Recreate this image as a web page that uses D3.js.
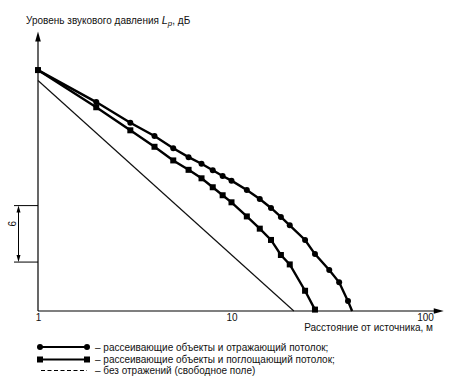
<!DOCTYPE html>
<html><head><meta charset="utf-8">
<script src="https://cdn.jsdelivr.net/npm/d3@7"></script>
<style>body{margin:0;background:#fff}svg{display:block}text{font-family:"Liberation Sans",Arial,sans-serif;fill:#111}</style>
</head><body>
<svg id="c" width="454" height="379"></svg>
<script>
// distances, m
const distReflect = [1,2,3,4,5,6,7,8,9,10,12,14,16,18,20,24,27,32,36,40,42];
const lpReflect   = [25.6,22.2,20.0,18.6,17.3,16.35,15.65,14.95,14.35,13.85,12.85,11.9,10.95,10.0,9.1,7.55,6.05,4.35,3.05,1.05,0];
const distAbsorb  = [1,2,3,4,5,6,7,8,9,10,12,14,16,18,20,24,27];
const lpAbsorb    = [25.6,21.65,19.2,17.45,16.0,15.0,14.1,13.15,12.3,11.55,10.05,8.75,7.55,5.95,4.95,2.15,0.15];
const distFree    = [1,21];
const lpFree      = [24.5,0];
const xTicks = [1,10,100];
const scaleBar = [5.2,11.2];
const yTitle = "Уровень звукового давления ";
const xTitle = "Расстояние от источника, м";
const legendLabels = ["– рассеивающие объекты и отражающий потолок;",
                      "– рассеивающие объекты и поглощающий потолок;",
                      "– без отражений (свободное поле)"];

const svg = d3.select("#c");
const x = d3.scaleLog().domain([1,125]).range([38, 38+193.5*Math.log10(125)]);
const y = d3.scaleLinear().domain([0,29.7]).range([311,31.5]);

// axes lines with arrows
const x0 = x(1), y0 = y(0);
svg.append("line").attr("x1",x0).attr("y1",y0).attr("x2",x0).attr("y2",y(29.7)+6).attr("stroke","#000").attr("stroke-width",1.2);
svg.append("path").attr("d",`M${x0},${y(29.7)} L${x0-2.8},${y(29.7)+10} L${x0+2.8},${y(29.7)+10} Z`).attr("fill","#000");
svg.append("line").attr("x1",x0).attr("y1",y0).attr("x2",x(125)-6).attr("y2",y0).attr("stroke","#000").attr("stroke-width",1.2);
svg.append("path").attr("d",`M${x(125)},${y0} L${x(125)-10},${y0-2.8} L${x(125)-10},${y0+2.8} Z`).attr("fill","#000");

// x tick labels
const ax = svg.append("g").attr("transform",`translate(0,${y0})`)
  .call(d3.axisBottom(x).tickValues(xTicks).tickSize(0).tickPadding(3).tickFormat(d3.format("d")));
ax.select(".domain").remove();
ax.selectAll("text").attr("font-size",10).style("font-family","'Liberation Sans',Arial,sans-serif").attr("fill","#111");

svg.append("text").attr("x",433).attr("y",331).attr("text-anchor","end").attr("font-size",10).text(xTitle);
const yt = svg.append("text").attr("x",26).attr("y",24).attr("font-size",10).text(yTitle);
yt.append("tspan").attr("font-style","italic").attr("font-size",11).text("L");
yt.append("tspan").attr("font-style","italic").attr("font-size",8).attr("dy",2).text("p");
yt.append("tspan").attr("dy",-2).text(", дБ");

// scale bar
scaleBar.forEach(v => svg.append("line").attr("x1",14).attr("x2",x0).attr("y1",y(v)).attr("y2",y(v)).attr("stroke","#000").attr("stroke-width",1));
const sbx = 18.5, sTop = y(scaleBar[1]), sBot = y(scaleBar[0]);
svg.append("line").attr("x1",sbx).attr("x2",sbx).attr("y1",sTop+5).attr("y2",sBot-5).attr("stroke","#000").attr("stroke-width",1);
svg.append("path").attr("d",`M${sbx},${sTop} L${sbx-2},${sTop+7} L${sbx+2},${sTop+7} Z`).attr("fill","#000");
svg.append("path").attr("d",`M${sbx},${sBot} L${sbx-2},${sBot-7} L${sbx+2},${sBot-7} Z`).attr("fill","#000");
svg.append("text").attr("transform",`translate(16,${(sTop+sBot)/2-10}) rotate(-90)`).attr("text-anchor","middle").attr("font-size",10).text("6");

// lines
const line = d3.line().x(d=>x(d[0])).y(d=>y(d[1]));
const free = distFree.map((d,i)=>[d,lpFree[i]]);
const refl = distReflect.map((d,i)=>[d,lpReflect[i]]);
const abs = distAbsorb.map((d,i)=>[d,lpAbsorb[i]]);
svg.append("path").datum(free).attr("d",line).attr("fill","none").attr("stroke","#111").attr("stroke-width",1.2);
svg.append("path").datum(refl).attr("d",line).attr("fill","none").attr("stroke","#000").attr("stroke-width",2.4);
svg.append("path").datum(abs).attr("d",line).attr("fill","none").attr("stroke","#000").attr("stroke-width",2.4);
svg.selectAll("circle.m").data(refl.slice(0,-1)).join("circle").attr("class","m")
  .attr("cx",d=>x(d[0])).attr("cy",d=>y(d[1])).attr("r",3).attr("fill","#000");
svg.selectAll("rect.m").data(abs).join("rect").attr("class","m")
  .attr("x",d=>x(d[0])-3).attr("y",d=>y(d[1])-3).attr("width",6).attr("height",6).attr("fill","#000");

// legend
const ly = [347, 359.5, 370.5];
const lg = svg.append("g");
lg.append("line").attr("x1",40).attr("x2",87).attr("y1",ly[0]).attr("y2",ly[0]).attr("stroke","#000").attr("stroke-width",2.2);
[40,87].forEach(px=>lg.append("circle").attr("cx",px).attr("cy",ly[0]).attr("r",3).attr("fill","#000"));
lg.append("line").attr("x1",40).attr("x2",87).attr("y1",ly[1]).attr("y2",ly[1]).attr("stroke","#000").attr("stroke-width",2.2);
[40,87].forEach(px=>lg.append("rect").attr("x",px-3).attr("y",ly[1]-3).attr("width",6).attr("height",6).attr("fill","#000"));
lg.append("line").attr("x1",41).attr("x2",87).attr("y1",ly[2]).attr("y2",ly[2]).attr("stroke","#000").attr("stroke-width",1.2).attr("stroke-dasharray","4,2.5");
legendLabels.forEach((t,i)=>lg.append("text").attr("x",95).attr("y",ly[i]+3.5).attr("font-size",10).text(t));
</script>
</body></html>
